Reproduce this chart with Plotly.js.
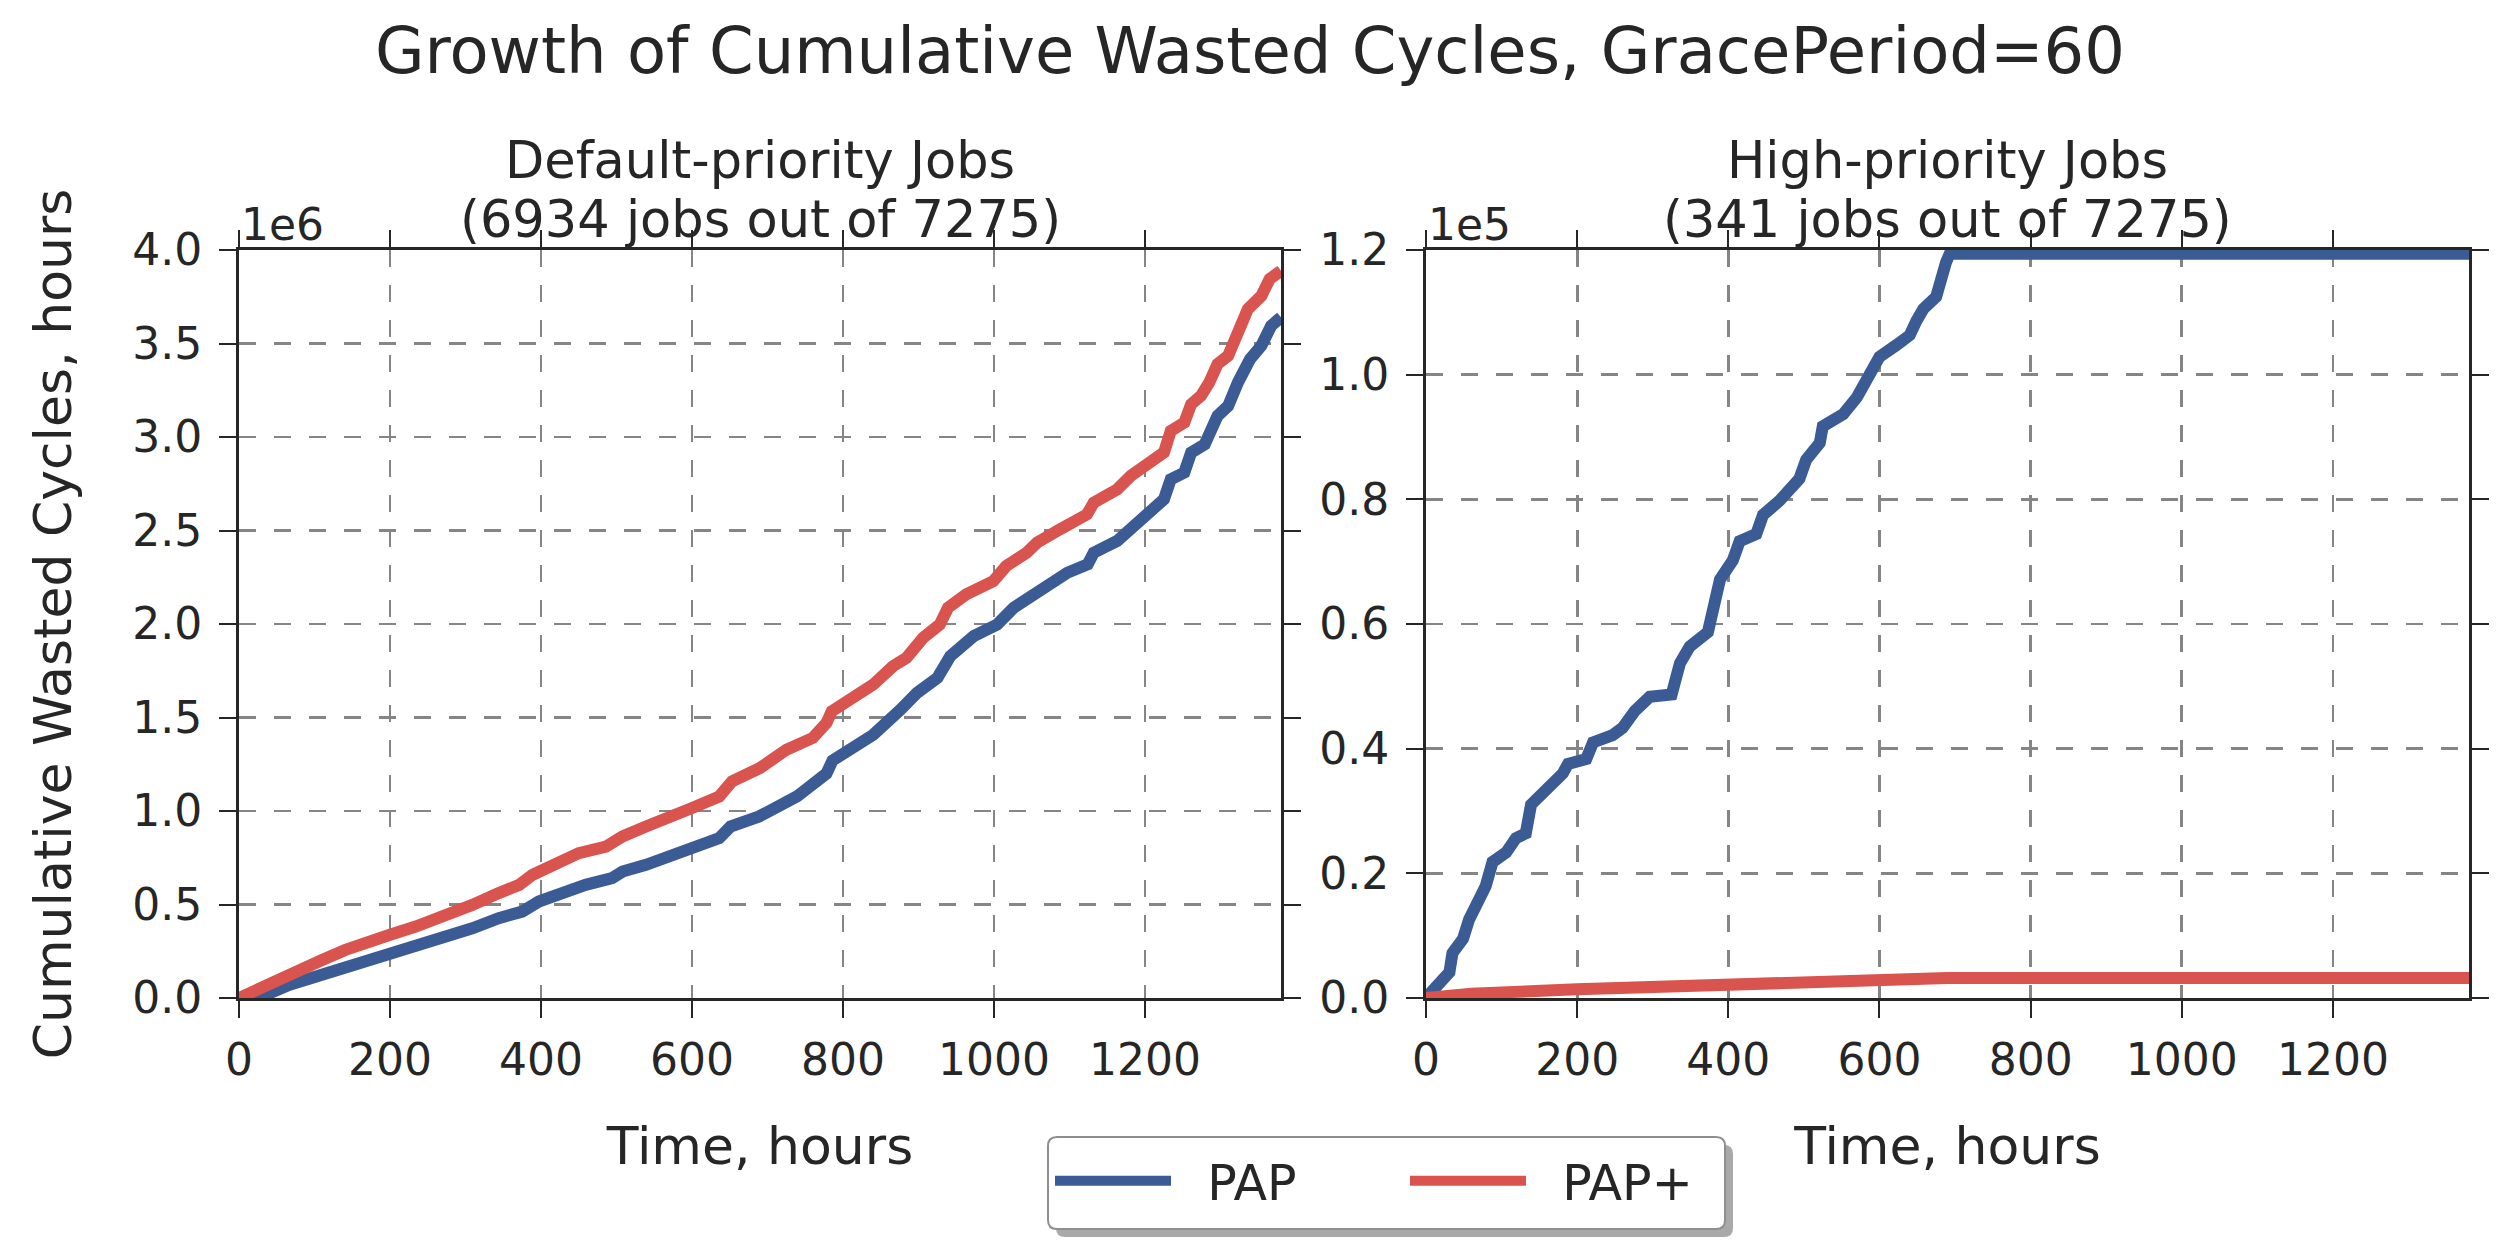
<!DOCTYPE html>
<html>
<head>
<meta charset="utf-8">
<script src="https://cdn.plot.ly/plotly-3.0.1.min.js"></script>
<style>html,body{margin:0;padding:0;background:#fff;}#chart{width:2500px;height:1250px;}</style>
</head>
<body>
<div id="chart"></div>
<script>
// ---- Data ----
const seriesNames = ["PAP", "PAP+"];
const seriesColors = ["#3b5b94", "#d9534f"];

// Default-priority jobs: cumulative wasted cycles (hours)
const defaultPapHours = [0, 26, 66, 110, 168, 199, 234, 274, 309, 344, 375, 397, 424, 459, 494, 508, 539, 574, 600, 636, 651, 689, 739, 770, 778, 786, 805, 840, 876, 898, 925, 942, 973, 1004, 1026, 1053, 1080, 1097, 1124, 1132, 1163, 1185, 1208, 1225, 1234, 1252, 1261, 1279, 1296, 1310, 1323, 1339, 1354, 1367, 1380];
const defaultPapValues = [0, 0, 70000, 123000, 203000, 239000, 275000, 320000, 373000, 427000, 462000, 516000, 561000, 605000, 641000, 676000, 712000, 766000, 802000, 855000, 917000, 971000, 1078000, 1170000, 1200000, 1270000, 1319000, 1408000, 1542000, 1632000, 1712000, 1828000, 1935000, 1997000, 2087000, 2158000, 2221000, 2274000, 2319000, 2381000, 2444000, 2524000, 2595000, 2667000, 2774000, 2810000, 2917000, 2961000, 3113000, 3166000, 3292000, 3416000, 3488000, 3595000, 3640000];

const defaultPapPlusHours = [0, 26, 66, 110, 141, 168, 199, 234, 274, 309, 344, 371, 389, 419, 450, 486, 508, 539, 565, 600, 636, 653, 690, 725, 760, 778, 785, 805, 840, 866, 884, 906, 928, 939, 963, 999, 1016, 1043, 1057, 1087, 1123, 1132, 1163, 1181, 1208, 1225, 1234, 1252, 1261, 1274, 1285, 1296, 1310, 1323, 1336, 1354, 1365, 1380];
const defaultPapPlusValues = [0, 52000, 123000, 203000, 257000, 302000, 337000, 382000, 436000, 498000, 561000, 605000, 659000, 721000, 775000, 810000, 864000, 917000, 953000, 1016000, 1078000, 1158000, 1230000, 1328000, 1391000, 1471000, 1533000, 1587000, 1676000, 1774000, 1819000, 1926000, 1997000, 2087000, 2158000, 2229000, 2310000, 2381000, 2435000, 2506000, 2586000, 2649000, 2720000, 2792000, 2863000, 2917000, 3032000, 3077000, 3175000, 3220000, 3292000, 3390000, 3434000, 3559000, 3684000, 3755000, 3845000, 3889000];

// High-priority jobs
const highPapHours = [0, 13, 31, 35, 49, 57, 68, 79, 88, 106, 119, 132, 139, 159, 181, 188, 212, 221, 247, 260, 276, 296, 325, 336, 349, 373, 380, 389, 406, 415, 437, 446, 468, 494, 503, 521, 525, 552, 570, 583, 600, 623, 640, 649, 658, 675, 682, 688, 693, 1380];
const highPapValues = [0, 1830, 4140, 7210, 9510, 12590, 15660, 17960, 21810, 23340, 25650, 26420, 31030, 33330, 36030, 37560, 38330, 41010, 42170, 43320, 46010, 48320, 48700, 53700, 56390, 58700, 62920, 67150, 70220, 73290, 74440, 77510, 79820, 83280, 86340, 89040, 91730, 93650, 96340, 99030, 102870, 104790, 106330, 108640, 110550, 112480, 116320, 118000, 119400, 119400];

const highPapPlusHours = [0, 60, 200, 300, 400, 500, 600, 690, 1380];
const highPapPlusValues = [0, 700, 1400, 1700, 2100, 2400, 2800, 3200, 3200];

// Axis ticks
const xTickVals = [0, 200, 400, 600, 800, 1000, 1200];
const xTickText = ["0", "200", "400", "600", "800", "1000", "1200"];
const yLeftTickVals = [0, 500000, 1000000, 1500000, 2000000, 2500000, 3000000, 3500000, 4000000];
const yLeftTickText = ["0.0", "0.5", "1.0", "1.5", "2.0", "2.5", "3.0", "3.5", "4.0"];
const yRightTickVals = [0, 20000, 40000, 60000, 80000, 100000, 120000];
const yRightTickText = ["0.0", "0.2", "0.4", "0.6", "0.8", "1.0", "1.2"];

// Texts
const mainTitle = "Growth of Cumulative Wasted Cycles, GracePeriod=60";
const leftTitleLines = ["Default-priority Jobs", "(6934 jobs out of 7275)"];
const rightTitleLines = ["High-priority Jobs", "(341 jobs out of 7275)"];
const xTitle = "Time, hours";
const yTitle = "Cumulative Wasted Cycles, hours";

// ---- Build ----
const W = 2500, H = 1250;
const px = v => v / W;
const py = v => 1 - v / H;
const ink = "#262626";
const LW = 12;
const gap = "\u00a0\u00a0"; // space between legend line and label

const traces = [
  {x: defaultPapHours, y: defaultPapValues, name: gap + seriesNames[0], xaxis: "x", yaxis: "y", mode: "lines",
   line: {color: seriesColors[0], width: LW}, legendgroup: "a", legendwidth: 224},
  {x: defaultPapPlusHours, y: defaultPapPlusValues, name: gap + seriesNames[1], xaxis: "x", yaxis: "y", mode: "lines",
   line: {color: seriesColors[1], width: LW}, legendgroup: "b", legendwidth: 190},
  {x: highPapHours, y: highPapValues, name: seriesNames[0], xaxis: "x2", yaxis: "y2", mode: "lines",
   line: {color: seriesColors[0], width: LW}, showlegend: false, legendgroup: "a"},
  {x: highPapPlusHours, y: highPapPlusValues, name: seriesNames[1], xaxis: "x2", yaxis: "y2", mode: "lines",
   line: {color: seriesColors[1], width: LW}, showlegend: false, legendgroup: "b"}
];

const common = {
  showline: true, linecolor: ink, linewidth: 3, mirror: "ticks",
  ticks: "outside", ticklen: 17, tickwidth: 2, tickcolor: ink,
  showgrid: true, gridcolor: "#858585", gridwidth: 2.7, griddash: "17px,18px",
  zeroline: false, tickfont: {size: 44, color: ink}, fixedrange: true
};

const xCommon = Object.assign({}, common, {range: [0, 1380], tickmode: "array", tickvals: xTickVals, ticktext: xTickText,
  title: {text: xTitle, font: {size: 52, color: ink}, standoff: 44}, ticklabelstandoff: 4});

// rounded rectangle path in paper units
function roundRect(x0, y0, x1, y1, r) {
  const rx = r / W, ry = r / H;
  const X0 = px(x0), X1 = px(x1), Y0 = py(y0), Y1 = py(y1); // Y0 top, Y1 bottom
  return `M${X0 + rx},${Y0} L${X1 - rx},${Y0} Q${X1},${Y0} ${X1},${Y0 - ry} L${X1},${Y1 + ry} Q${X1},${Y1} ${X1 - rx},${Y1} ` +
         `L${X0 + rx},${Y1} Q${X0},${Y1} ${X0},${Y1 + ry} L${X0},${Y0 - ry} Q${X0},${Y0} ${X0 + rx},${Y0} Z`;
}

const titleAnn = (text, cx, cy) => ({text: text, x: px(cx), y: py(cy), xref: "paper", yref: "paper",
  xanchor: "center", yanchor: "middle", showarrow: false, font: {size: 51, color: ink}});

const layout = {
  width: W, height: H,
  margin: {l: 0, r: 0, t: 0, b: 0},
  paper_bgcolor: "#ffffff", plot_bgcolor: "#ffffff",
  font: {family: "DejaVu Sans", color: ink},
  title: {text: mainTitle, font: {size: 64, color: ink}, x: 0.5, xanchor: "center", y: py(51), yanchor: "middle", xref: "paper", yref: "paper"},
  xaxis: Object.assign({}, xCommon, {domain: [px(239), px(1281)], anchor: "y"}),
  yaxis: Object.assign({}, common, {domain: [py(998), py(250)], anchor: "x", range: [0, 4000000], tickmode: "array",
    tickvals: yLeftTickVals, ticktext: yLeftTickText, ticklabelstandoff: 8,
    title: {text: yTitle, font: {size: 52, color: ink}, standoff: 45}}),
  xaxis2: Object.assign({}, xCommon, {domain: [px(1426), px(2469)], anchor: "y2"}),
  yaxis2: Object.assign({}, common, {domain: [py(998), py(250)], anchor: "x2", range: [0, 120000], tickmode: "array",
    tickvals: yRightTickVals, ticktext: yRightTickText, ticklabelstandoff: 8}),
  showlegend: true,
  legend: {orientation: "h", x: px(1050), y: py(1181), xanchor: "left", yanchor: "middle",
    font: {size: 49, color: ink}, bgcolor: "rgba(0,0,0,0)", borderwidth: 0,
    itemwidth: 116, traceorder: "normal"},
  annotations: [
    titleAnn(leftTitleLines[0], 760, 160),
    titleAnn(leftTitleLines[1], 760, 219),
    titleAnn(rightTitleLines[0], 1947.5, 160),
    titleAnn(rightTitleLines[1], 1947.5, 219),
    {text: "1e6", x: px(239), y: py(225), xref: "paper", yref: "paper", xanchor: "left", yanchor: "middle",
     showarrow: false, font: {size: 44, color: ink}},
    {text: "1e5", x: px(1426), y: py(225), xref: "paper", yref: "paper", xanchor: "left", yanchor: "middle",
     showarrow: false, font: {size: 44, color: ink}}
  ],
  shapes: [
    {type: "path", xref: "paper", yref: "paper", path: roundRect(1056, 1145, 1733, 1237, 9),
     fillcolor: "#a9a9a9", line: {width: 0}, layer: "above"},
    {type: "path", xref: "paper", yref: "paper", path: roundRect(1048, 1137, 1725, 1229, 9),
     fillcolor: "#ffffff", line: {width: 2, color: "#8e8e8e"}, layer: "above"}
  ]
};

Plotly.newPlot("chart", traces, layout, {staticPlot: true, displayModeBar: false});
</script>
</body>
</html>
